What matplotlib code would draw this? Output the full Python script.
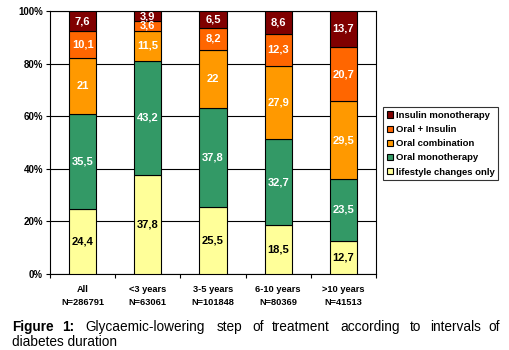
import matplotlib
matplotlib.use("Agg")
import matplotlib.pyplot as plt
import numpy as np
from matplotlib.patches import Patch

plt.rcParams['font.family'] = ['Liberation Sans', 'DejaVu Sans']

categories = ["All", "<3 years", "3-5 years", "6-10 years", ">10 years"]
n_labels = ["N=286791", "N=63061", "N=101848", "N=80369", "N=41513"]
series_names = ["lifestyle changes only", "Oral monotherapy", "Oral combination",
                "Oral + Insulin", "Insulin monotherapy"]
lifestyle = [24.4, 37.8, 25.5, 18.5, 12.7]
oral_mono = [35.5, 43.2, 37.8, 32.7, 23.5]
oral_comb = [21, 11.5, 22, 27.9, 29.5]
oral_ins = [10.1, 3.6, 8.2, 12.3, 20.7]
ins_mono = [7.6, 3.9, 6.5, 8.6, 13.7]
colors = ["#FFFF99", "#339966", "#FF9900", "#FF6600", "#800000"]
text_colors = ["black", "white", "white", "white", "white"]
yticks = [0, 20, 40, 60, 80, 100]

data = np.array([lifestyle, oral_mono, oral_comb, oral_ins, ins_mono])
totals = data.sum(axis=0)
pct = data / totals * 100

fig = plt.figure(figsize=(5.09, 3.5), dpi=100)
ax = fig.add_axes([50/509, 1-274/350, 326/509, 263/350])

x = np.arange(len(categories))
bottom = np.zeros(len(categories))
for i in range(len(series_names)):
    ax.bar(x, pct[i], 0.42, bottom=bottom, color=colors[i], edgecolor='black',
           linewidth=0.8, zorder=3)
    for j in range(len(categories)):
        lab = ("%g" % data[i][j]).replace('.', ',')
        ax.text(x[j], bottom[j] + pct[i][j]/2, lab, ha='center', va='center',
                color=text_colors[i], fontsize=8, fontweight='bold', zorder=4)
    bottom += pct[i]

ax.set_xlim(-0.5, len(categories) - 0.5)
ax.set_ylim(0, 100)
ax.set_yticks(yticks)
ax.set_yticklabels(["%d%%" % v for v in yticks], fontsize=7, fontweight='bold')
ax.yaxis.grid(True, color='black', linewidth=0.8, zorder=0)
ax.tick_params(axis='y', length=3, width=0.8, pad=2)

ax.set_xticks(x)
ax.set_xticklabels([c + "\n" + n for c, n in zip(categories, n_labels)],
                   fontsize=6.7, fontweight='bold', linespacing=1.5)
ax.tick_params(axis='x', which='major', length=0, pad=8)
ax.set_xticks(np.arange(-0.5, len(categories)), minor=True)
ax.tick_params(axis='x', which='minor', length=3, width=0.8)
for s in ax.spines.values():
    s.set_linewidth(0.8)

handles = [Patch(facecolor=colors[i], edgecolor='black', linewidth=0.8)
           for i in range(len(series_names))][::-1]
leg = fig.legend(handles, series_names[::-1], loc='upper left',
                 bbox_to_anchor=(383/509, 1-107/350), prop={'size': 6.8, 'weight': 'bold'},
                 frameon=True, fancybox=False, edgecolor='black',
                 handlelength=0.65, handleheight=0.65, handletextpad=0.3,
                 labelspacing=0.55, borderpad=0.4, borderaxespad=0)
leg.get_frame().set_linewidth(0.8)

# Caption (justified first line)
words = [("Figure", 12, 'bold'), ("1:", 62, 'bold'), ("Glycaemic-lowering", 85, 'normal'),
         ("step", 217, 'normal'), ("of", 252, 'normal'), ("treatment", 272, 'normal'),
         ("according", 340, 'normal'), ("to", 410, 'normal'), ("intervals", 430, 'normal'),
         ("of", 488, 'normal')]
for w, px, fw in words:
    fig.text(px/509, 1-331/350, w, fontsize=9.8, fontweight=fw, ha='left', va='baseline')
fig.text(12/509, 1-346/350, "diabetes duration", fontsize=9.8, ha='left', va='baseline')

fig.savefig("out.png", dpi=100)
